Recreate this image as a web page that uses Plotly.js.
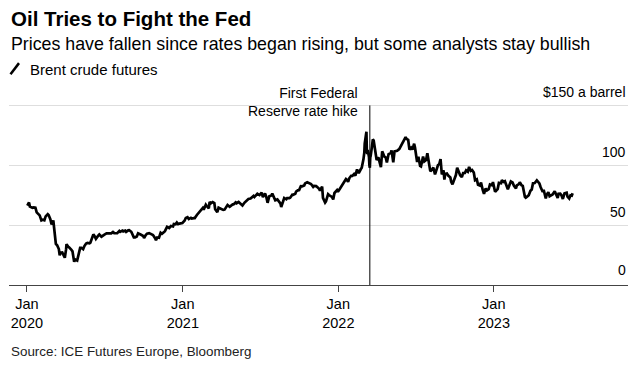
<!DOCTYPE html>
<html>
<head>
<meta charset="utf-8">
<script src="https://cdn.plot.ly/plotly-3.0.1.min.js"></script>
<style>html,body{margin:0;padding:0;background:#fff;}#chart{width:643px;height:367px;}</style>
</head>
<body>
<div id="chart"></div>
<script>
// ---- Data (Brent crude futures, $ a barrel) ----
const dates2020 = ["2020-01-02","2020-01-06","2020-01-08","2020-01-10","2020-01-14","2020-01-17","2020-01-21","2020-01-24","2020-01-28","2020-01-31","2020-02-04","2020-02-07","2020-02-11","2020-02-14","2020-02-19","2020-02-21","2020-02-25","2020-02-28","2020-03-03","2020-03-06","2020-03-09","2020-03-12","2020-03-16","2020-03-18","2020-03-20","2020-03-24","2020-03-27","2020-03-30","2020-04-02","2020-04-03","2020-04-07","2020-04-09","2020-04-14","2020-04-17","2020-04-21","2020-04-23","2020-04-28","2020-05-01","2020-05-05","2020-05-08","2020-05-12","2020-05-15","2020-05-19","2020-05-22","2020-05-27","2020-05-29","2020-06-03","2020-06-05","2020-06-08","2020-06-11","2020-06-16","2020-06-19","2020-06-24","2020-06-26","2020-07-01","2020-07-06","2020-07-10","2020-07-14","2020-07-17","2020-07-21","2020-07-24","2020-07-28","2020-07-31","2020-08-05","2020-08-07","2020-08-12","2020-08-14","2020-08-19","2020-08-21","2020-08-26","2020-08-28","2020-09-02","2020-09-04","2020-09-08","2020-09-11","2020-09-15","2020-09-18","2020-09-23","2020-09-25","2020-09-30","2020-10-02","2020-10-06","2020-10-09","2020-10-14","2020-10-16","2020-10-21","2020-10-23","2020-10-28","2020-10-30","2020-11-02","2020-11-06","2020-11-10","2020-11-13","2020-11-18","2020-11-20","2020-11-25","2020-11-30","2020-12-04","2020-12-09","2020-12-11","2020-12-15","2020-12-18","2020-12-21","2020-12-24","2020-12-31"];
const prices2020 = [66.25,68.91,65.44,64.98,64.49,64.85,64.59,60.69,59.51,58.16,53.96,54.47,54.01,57.32,59.12,58.50,54.95,50.52,53.86,45.27,34.36,33.22,30.05,24.88,26.98,27.15,24.93,22.76,29.94,34.11,31.87,31.48,29.60,28.08,19.33,21.33,20.46,26.44,30.97,30.97,29.98,32.50,34.65,35.13,34.74,35.33,39.79,42.30,40.80,38.55,40.96,42.19,40.31,41.02,42.03,43.10,43.24,42.90,43.14,44.32,43.34,43.22,43.30,45.17,44.40,45.43,44.80,45.37,44.35,45.64,45.81,44.43,42.66,39.78,39.83,40.53,43.15,41.77,41.92,40.95,39.27,41.67,42.85,43.32,42.93,41.73,41.77,39.12,37.46,39.71,39.45,43.61,42.78,44.34,44.96,48.61,47.59,49.25,48.86,50.97,50.76,52.26,50.91,51.29,51.80];

const dates2021 = ["2021-01-05","2021-01-08","2021-01-12","2021-01-15","2021-01-20","2021-01-22","2021-01-27","2021-01-29","2021-02-03","2021-02-05","2021-02-10","2021-02-12","2021-02-17","2021-02-19","2021-02-24","2021-02-26","2021-03-03","2021-03-05","2021-03-08","2021-03-12","2021-03-16","2021-03-18","2021-03-23","2021-03-26","2021-03-31","2021-04-06","2021-04-09","2021-04-14","2021-04-16","2021-04-21","2021-04-23","2021-04-28","2021-04-30","2021-05-05","2021-05-07","2021-05-12","2021-05-14","2021-05-19","2021-05-21","2021-05-26","2021-05-28","2021-06-02","2021-06-04","2021-06-09","2021-06-11","2021-06-16","2021-06-18","2021-06-23","2021-06-25","2021-06-30","2021-07-05","2021-07-08","2021-07-13","2021-07-16","2021-07-19","2021-07-23","2021-07-28","2021-07-30","2021-08-03","2021-08-06","2021-08-11","2021-08-13","2021-08-18","2021-08-20","2021-08-24","2021-08-27","2021-09-01","2021-09-03","2021-09-08","2021-09-10","2021-09-15","2021-09-17","2021-09-22","2021-09-24","2021-09-28","2021-10-01","2021-10-05","2021-10-08","2021-10-13","2021-10-15","2021-10-20","2021-10-22","2021-10-27","2021-10-29","2021-11-03","2021-11-05","2021-11-10","2021-11-12","2021-11-17","2021-11-19","2021-11-24","2021-11-26","2021-12-01","2021-12-03","2021-12-08","2021-12-10","2021-12-15","2021-12-17","2021-12-20","2021-12-23","2021-12-29","2021-12-31"];
const prices2021 = [53.60,55.99,56.58,55.10,56.08,55.41,55.81,55.88,58.46,59.34,61.47,62.43,64.34,62.91,67.04,66.13,64.07,69.36,68.24,69.22,68.39,63.28,60.79,64.57,63.54,62.74,62.95,66.58,66.77,65.32,66.11,67.27,67.25,68.96,68.28,69.32,68.71,66.66,66.44,68.87,69.63,71.35,71.89,72.22,72.69,74.39,73.51,75.19,76.18,75.13,77.16,73.43,76.49,73.59,68.62,74.10,74.74,76.33,72.41,70.70,71.44,70.59,68.23,65.18,70.05,72.70,71.59,72.61,72.60,72.92,75.46,75.34,76.19,78.09,79.09,79.28,82.56,82.39,83.18,84.86,85.82,85.53,84.58,84.38,81.99,82.74,82.64,82.17,80.28,78.89,82.25,72.72,68.87,69.88,75.82,75.15,73.88,73.52,71.52,76.85,79.23,77.78];

const dates2022 = ["2022-01-04","2022-01-07","2022-01-12","2022-01-14","2022-01-19","2022-01-21","2022-01-24","2022-01-27","2022-01-31","2022-02-03","2022-02-07","2022-02-10","2022-02-14","2022-02-16","2022-02-18","2022-02-23","2022-02-25","2022-03-01","2022-03-03","2022-03-04","2022-03-07","2022-03-08","2022-03-09","2022-03-10","2022-03-11","2022-03-14","2022-03-15","2022-03-16","2022-03-17","2022-03-18","2022-03-21","2022-03-23","2022-03-25","2022-03-29","2022-03-31","2022-04-01","2022-04-05","2022-04-08","2022-04-11","2022-04-14","2022-04-19","2022-04-22","2022-04-25","2022-04-29","2022-05-04","2022-05-06","2022-05-10","2022-05-13","2022-05-17","2022-05-19","2022-05-24","2022-05-27","2022-06-03","2022-06-08","2022-06-10","2022-06-14","2022-06-17","2022-06-21","2022-06-24","2022-06-28","2022-06-30","2022-07-05","2022-07-08","2022-07-12","2022-07-14","2022-07-19","2022-07-22","2022-07-26","2022-07-29","2022-08-02","2022-08-05","2022-08-09","2022-08-12","2022-08-16","2022-08-19","2022-08-23","2022-08-26","2022-08-29","2022-09-01","2022-09-05","2022-09-07","2022-09-09","2022-09-13","2022-09-16","2022-09-21","2022-09-23","2022-09-26","2022-09-30","2022-10-04","2022-10-07","2022-10-11","2022-10-14","2022-10-18","2022-10-21","2022-10-25","2022-10-28","2022-11-01","2022-11-04","2022-11-08","2022-11-11","2022-11-15","2022-11-18","2022-11-22","2022-11-25","2022-11-29","2022-12-02","2022-12-06","2022-12-09","2022-12-13","2022-12-16","2022-12-20","2022-12-23","2022-12-28","2022-12-30"];
const prices2022 = [80.00,81.75,84.67,86.06,88.44,87.89,86.27,89.34,91.21,91.11,92.69,91.41,96.48,94.81,93.54,96.84,97.93,104.97,110.46,118.11,123.21,127.98,111.14,109.33,112.67,106.90,99.91,98.02,106.64,107.93,115.62,121.60,120.65,110.23,107.91,104.39,106.64,102.78,98.48,111.70,107.25,106.65,102.32,109.34,110.14,112.39,102.46,111.55,111.93,112.04,113.56,115.56,119.72,123.58,122.01,121.17,113.12,114.65,113.12,117.98,114.81,102.77,107.02,99.49,99.10,107.35,103.20,104.40,110.01,100.54,94.92,96.31,98.15,92.34,96.72,100.22,100.99,105.09,92.36,95.74,88.00,92.84,93.17,91.35,89.83,86.15,84.06,87.96,91.80,97.92,94.29,91.63,90.03,93.50,93.52,95.77,94.65,98.57,95.36,95.99,93.86,87.62,88.36,83.63,83.03,85.57,79.35,76.10,80.68,79.04,79.99,83.92,83.26,85.91];

const dates2023 = ["2023-01-04","2023-01-06","2023-01-10","2023-01-13","2023-01-18","2023-01-20","2023-01-24","2023-01-27","2023-02-01","2023-02-03","2023-02-07","2023-02-10","2023-02-14","2023-02-17","2023-02-22","2023-02-24","2023-03-01","2023-03-03","2023-03-07","2023-03-10","2023-03-15","2023-03-17","2023-03-20","2023-03-24","2023-03-28","2023-03-31","2023-04-03","2023-04-07","2023-04-12","2023-04-14","2023-04-18","2023-04-21","2023-04-26","2023-04-28","2023-05-03","2023-05-05","2023-05-09","2023-05-12","2023-05-16","2023-05-19","2023-05-24","2023-05-26","2023-05-31","2023-06-02","2023-06-06","2023-06-09","2023-06-12","2023-06-16","2023-06-21","2023-06-23","2023-06-27","2023-06-30","2023-07-03","2023-07-05"];
const prices2023 = [77.84,78.57,80.10,85.28,84.98,87.63,86.13,86.66,82.84,79.94,83.69,86.39,85.58,83.00,80.60,83.16,84.31,85.83,83.29,82.78,73.69,72.97,73.79,74.99,78.65,79.77,84.93,85.12,87.33,86.31,84.77,81.66,77.69,79.54,72.33,75.30,77.44,74.17,74.91,75.58,78.36,76.95,72.66,76.13,76.29,74.79,71.84,76.61,77.12,73.85,72.26,74.90,74.65,76.65];

const seriesName = "Brent crude futures";
const xTickVals = ["2020-01-01","2021-01-01","2022-01-01","2023-01-01"];
const xTickText = ["Jan<br>2020","Jan<br>2021","Jan<br>2022","Jan<br>2023"];
const yTickVals = [0,50,100,150];
const yTickText = ["0","50","100","$150 a barrel"];
const hikeDate = "2022-03-16";
const hikeLabel = "First Federal<br>Reserve rate hike";
const titleText = "Oil Tries to Fight the Fed";
const subtitleText = "Prices have fallen since rates began rising, but some analysts stay bullish";
const sourceText = "Source: ICE Futures Europe, Bloomberg";

const allDates = [].concat(dates2020, dates2021, dates2022, dates2023);
const allPrices = [].concat(prices2020, prices2021, prices2022, prices2023);

const FONT = "'Liberation Sans', Arial, Helvetica, sans-serif";
const Y_MAX = 152;
const PLOT_L = 9, PLOT_R = 628, PLOT_B = 285;
const PLOT_T = PLOT_B - Y_MAX * (PLOT_B - 105.7) / 150;
const py = (p) => (PLOT_B - p) / (PLOT_B - PLOT_T);   // pixel y -> paper y
const px = (p) => (p - PLOT_L) / (PLOT_R - PLOT_L);   // pixel x -> paper x

const trace = {
  x: allDates, y: allPrices, type: 'scatter', mode: 'lines', name: seriesName,
  line: {color: '#000', width: 2.7, shape: 'linear'}, hoverinfo: 'skip'
};

const yLabelAnns = yTickVals.map((v, i) => ({
  text: yTickText[i], xref: 'paper', yref: 'y', x: 1, y: v,
  xanchor: 'right', yanchor: 'middle', yshift: (v === 0 ? 15 : 13), showarrow: false,
  font: {size: 14, color: '#000'}
}));

const layout = {
  width: 643, height: 367,
  margin: {l: PLOT_L, r: 643 - PLOT_R, t: PLOT_T, b: 367 - PLOT_B, pad: 0},
  paper_bgcolor: '#fff', plot_bgcolor: '#fff',
  showlegend: false,
  font: {family: FONT, color: '#000'},
  xaxis: {
    type: 'date', range: ['2019-11-20', '2023-11-12'],
    tickmode: 'array', tickvals: xTickVals, ticktext: xTickText,
    ticks: 'outside', ticklen: 6, tickcolor: '#444', tickwidth: 1,
    showline: true, linecolor: '#444', linewidth: 1,
    showgrid: false, zeroline: false,
    tickfont: {size: 14.5, color: '#000'}
  },
  yaxis: {
    range: [0, Y_MAX], side: 'right',
    tickmode: 'array', tickvals: yTickVals,
    showticklabels: false, ticks: '',
    showgrid: true, gridcolor: '#dedede', gridwidth: 1,
    zeroline: false, showline: false
  },
  shapes: [
    {type: 'line', xref: 'x', yref: 'y', x0: hikeDate, x1: hikeDate, y0: 0, y1: 150,
     line: {color: '#000', width: 1}},
    {type: 'line', xref: 'paper', yref: 'paper', x0: px(10.5), x1: px(19), y0: py(74.5), y1: py(63.5),
     line: {color: '#000', width: 2.5}}
  ],
  annotations: [
    {text: '<b>' + titleText + '</b>', xref: 'paper', yref: 'paper', x: px(9), y: py(18.9),
     xanchor: 'left', yanchor: 'middle', showarrow: false, font: {size: 20.5, color: '#000'}},
    {text: subtitleText, xref: 'paper', yref: 'paper', x: px(9), y: py(44.2),
     xanchor: 'left', yanchor: 'middle', showarrow: false, font: {size: 17.8, color: '#000'}},
    {text: seriesName, xref: 'paper', yref: 'paper', x: px(28), y: py(69.7),
     xanchor: 'left', yanchor: 'middle', showarrow: false, font: {size: 15, color: '#000'}},
    {text: hikeLabel, xref: 'x', yref: 'paper', x: hikeDate, xshift: -10, y: py(102),
     xanchor: 'right', yanchor: 'middle', align: 'right', showarrow: false, font: {size: 14, color: '#000'}},
    {text: sourceText, xref: 'paper', yref: 'paper', x: px(9), y: py(351.7),
     xanchor: 'left', yanchor: 'middle', showarrow: false, font: {size: 13.4, color: '#222'}}
  ].concat(yLabelAnns)
};

Plotly.newPlot('chart', [trace], layout, {displayModeBar: false, staticPlot: true});
</script>
</body>
</html>
